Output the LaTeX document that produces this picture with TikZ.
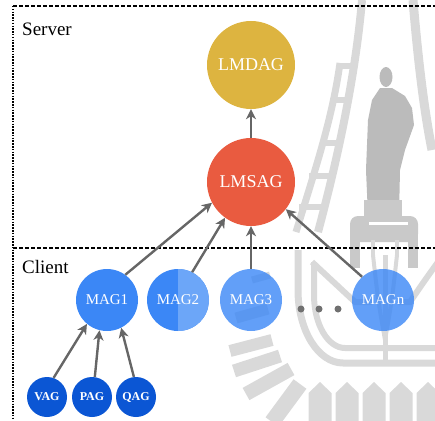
\documentclass[tikz,border=0pt]{standalone}
\usepackage{fontspec}
\setmainfont{Liberation Serif}
\usetikzlibrary{arrows.meta,calc}

\definecolor{goldfill}{HTML}{DDB440}
\definecolor{redfill}{HTML}{E95B40}
\definecolor{magblue}{HTML}{3B87F6}
\definecolor{maglight}{HTML}{6CA6F8}
\definecolor{deepblue}{HTML}{0B56D4}
\definecolor{linkgray}{HTML}{666666}
\definecolor{dotgray}{HTML}{707070}
\definecolor{wmlight}{HTML}{D9D9D9}
\definecolor{wmmid}{HTML}{C9C9C9}
\definecolor{wmdark}{HTML}{BBBBBB}

\tikzset{
  bignode/.style={circle, minimum size=88pt, inner sep=0pt, text=white,
    font=\fontsize{18}{18}\selectfont},
  magnode/.style={circle, minimum size=62pt, inner sep=0pt, text=white,
    font=\fontsize{15}{15}\selectfont},
  softmag/.style={magnode, fill=magblue, fill opacity=0.8, text opacity=1},
  leafnode/.style={circle, fill=deepblue, minimum size=40pt, inner sep=0pt,
    text=white, font=\fontsize{12}{12}\selectfont\bfseries},
  ellipsisdot/.style={circle, fill=dotgray, minimum size=7pt, inner sep=0pt},
  link/.style={draw=linkgray, line width=2.4pt,
    -{Stealth[length=10pt,width=10pt,inset=3pt]}},
  zoneline/.style={line width=1.1pt, dash pattern=on 4pt off 2pt},
  sideline/.style={line width=1.1pt, dash pattern=on 1.5pt off 1.3pt},
  zonelabel/.style={anchor=base west, inner sep=0pt,
    font=\fontsize{19}{19}\selectfont},
  wmband/.style={draw=wmlight, line cap=butt},
  ray/.style={fill=wmlight},
}

\begin{document}
\begin{tikzpicture}[x=1pt, y=-1pt]
\useasboundingbox (0,0) rectangle (435,420);

% faint emblem in the background
\begin{scope}
  \clip (0,0) rectangle (435,420);
  % arch with ladder
  \draw[wmband, line width=8pt] (362,0) .. controls (356,70) and (340,150) .. (318,232);
  \draw[wmband, line width=7pt] (340,63) .. controls (332,120) and (315,170) .. (296,232);
  \draw[wmband, line width=6pt] (337,66) -- (356,66);
  \draw[wmband, line width=6pt] (332,100) -- (351,100);
  \draw[wmband, line width=6pt] (320,143) -- (342,143);
  \draw[wmband, line width=6pt] (309,176) -- (333,176);
  \draw[wmband, line width=6pt] (299,207) -- (324,207);
  \draw[wmband, line width=9pt] (413,0) .. controls (418,60) and (424,110) .. (432,150);
  % standing figure
  \fill[wmdark] (386,77) ellipse (6.5 and 10);
  \fill[wmdark] (380,88) -- (392,88) -- (405,96) -- (412,108) -- (414,125)
    -- (405,150) -- (400,170) -- (399,216) -- (368,216) -- (366,170)
    -- (368,120) -- (372,100) -- cycle;
  % pedestal
  \fill[wmmid] (364,200) rectangle (402,220);
  \fill[wmmid, rounded corners=8pt] (350,216) rectangle (418,242);
  \fill[wmmid] (350,232) rectangle (360,268);
  \fill[wmmid] (408,232) rectangle (418,268);
  \fill[white] (369,222) rectangle (408,225);
  % lotus
  \draw[wmband, line width=7pt] (298,250) -- (298,290)
    arc[start angle=180, end angle=90, x radius=45, y radius=73] -- (440,363);
  \draw[wmband, line width=6pt] (314,262) -- (314,295)
    arc[start angle=180, end angle=90, x radius=31, y radius=53] -- (440,348);
  \draw[wmband, line width=6pt] (312,262) -- (355,302) -- (372,302);
  \draw[wmband, line width=6pt] (438,262) .. controls (425,280) .. (410,302) -- (398,302);
  \draw[wmband, line width=5pt] (385,363) -- (385,255);
  \draw[wmband, line width=4pt] (385,340) .. controls (378,300) .. (373,255);
  \draw[wmband, line width=4pt] (385,340) .. controls (392,300) .. (397,255);
  \draw[wmband, line width=4pt] (373,255) -- (373,240);
  \draw[wmband, line width=4pt] (397,255) -- (397,240);
  % rays
  \draw[wmband, line width=11pt] (236,318) -- (268,309);
  \draw[wmband, line width=7pt] (252,280) -- (270,275);
  \draw[wmband, line width=12pt] (230,351) -- (272,340);
  \draw[wmband, line width=13pt] (234,371) -- (280,356);
  \draw[wmband, line width=14pt] (246,394) -- (291,369);
  \draw[wmband, line width=16pt] (272,422) -- (300,384);
  \foreach \x in {320,347,374,401,428}
    \fill[ray] (\x-11.5,425) -- (\x-11.5,393) -- (\x,382) -- (\x+11.5,393) -- (\x+11.5,425) -- cycle;
\end{scope}

% server / client zones
\draw[zoneline] (13,6) -- (435,6);
\draw[sideline] (13,6) -- (13,420);
\draw[zoneline] (13,248) -- (435,248);
\node[zonelabel] (serverlbl) at (22,36) {Server};
\node[zonelabel] (clientlbl) at (22,273) {Client};

% server side
\node[bignode, fill=goldfill] (lmdag) at (251,65) {LMDAG};
\node[bignode, fill=redfill] (lmsag) at (251,182) {LMSAG};

% client side
\node[magnode, fill=magblue] (mag1) at (107,300) {MAG1};
\node[magnode, fill=magblue,
  path picture={\fill[maglight] (path picture bounding box.north)
    rectangle (path picture bounding box.south east);}] (mag2) at (178,300) {MAG2};
\node[softmag] (mag3) at (251,300) {MAG3};
\node[ellipsisdot] (dot1) at (301,309) {};
\node[ellipsisdot] (dot2) at (319,309) {};
\node[ellipsisdot] (dot3) at (338,309) {};
\node[softmag] (magn) at (383,300) {MAGn};

\node[leafnode] (vag) at (47,397) {VAG};
\node[leafnode] (pag) at (92,397) {PAG};
\node[leafnode] (qag) at (136,397) {QAG};

% connectors
\draw[link] (lmsag.90) -- (lmdag.270);
\draw[link] (mag1.54) -- (lmsag.208);
\draw[link] (mag2.63) -- (lmsag.234);
\draw[link] (mag3.90) -- (lmsag.270);
\draw[link] (magn.132) -- (lmsag.322);
\draw[link] (vag.71) -- (mag1.230);
\draw[link] (pag.82) -- (mag1.256);
\draw[link] (qag.96) -- (mag1.297);
\end{tikzpicture}
\end{document}
